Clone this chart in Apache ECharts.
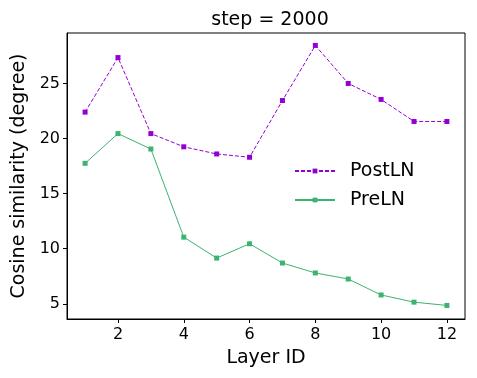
<!DOCTYPE html>
<html>
<head>
<meta charset="utf-8">
<script src="https://cdn.jsdelivr.net/npm/echarts@6/dist/echarts.min.js"></script>
<style>
  html, body { margin: 0; padding: 0; background: #fff; }
  #chart { width: 477px; height: 378px; }
</style>
</head>
<body>
<div id="chart"></div>
<script>
  // data
  const layers = [1, 2, 3, 4, 5, 6, 7, 8, 9, 10, 11, 12];
  const postLN = [22.4, 27.35, 20.45, 19.25, 18.6, 18.3, 23.45, 28.45, 25.0, 23.55, 21.55, 21.55];
  const preLN = [17.75, 20.45, 19.05, 11.05, 9.15, 10.45, 8.7, 7.8, 7.25, 5.8, 5.15, 4.85];
  const xTicks = [2, 4, 6, 8, 10, 12];
  const yTicks = [5, 10, 15, 20, 25];

  const font = 'DejaVu Sans';
  const chart = echarts.init(document.getElementById('chart'));

  const pairs = arr => layers.map((x, i) => [x, arr[i]]);

  const option = {
    animation: false,
    backgroundColor: '#fff',
    title: {
      text: 'step = 2000',
      left: 265,
      top: 6,
      textAlign: 'center',
      textStyle: { fontFamily: font, fontSize: 19, fontWeight: 'normal', color: '#000' }
    },
    legend: {
      orient: 'vertical',
      left: 294,
      top: 161,
      padding: 0,
      itemWidth: 40,
      itemHeight: 6,
      itemGap: 9,
      textStyle: { fontFamily: font, fontSize: 19, color: '#000', lineHeight: 20, padding: [0, 0, 0, 10] },
      data: ['PostLN', 'PreLN']
    },
    grid: {
      left: 67, right: 12, top: 33, bottom: 59,
      show: true, borderColor: '#000', borderWidth: 1, backgroundColor: 'transparent'
    },
    xAxis: {
      type: 'value',
      min: 0.45,
      max: 12.55,
      name: 'Layer ID',
      nameLocation: 'middle',
      nameGap: 30,
      nameTextStyle: { fontFamily: font, fontSize: 19, color: '#000' },
      axisLine: { lineStyle: { color: '#000', width: 1 } },
      axisTick: { show: true, length: 4, customValues: xTicks, lineStyle: { color: '#000' } },
      axisLabel: { customValues: xTicks, fontFamily: font, fontSize: 16, color: '#000', margin: 8 },
      splitLine: { show: false }
    },
    yAxis: {
      type: 'value',
      min: 3.62,
      max: 29.58,
      name: 'Cosine similarity (degree)',
      nameLocation: 'middle',
      nameGap: 37,
      nameTextStyle: { fontFamily: font, fontSize: 19, color: '#000' },
      axisLine: { show: true, lineStyle: { color: '#000', width: 1 } },
      axisTick: { show: true, length: 4, customValues: yTicks, lineStyle: { color: '#000' } },
      axisLabel: { customValues: yTicks, fontFamily: font, fontSize: 16, color: '#000', margin: 7 },
      splitLine: { show: false }
    },
    series: [
      {
        name: 'PostLN',
        type: 'line',
        data: pairs(postLN),
        symbol: 'rect',
        symbolSize: 5,
        color: '#9400D3',
        lineStyle: { width: 1, type: [4, 2] },
        itemStyle: { color: '#9400D3' }
      },
      {
        name: 'PreLN',
        type: 'line',
        data: pairs(preLN),
        symbol: 'rect',
        symbolSize: 5,
        color: '#3CB371',
        lineStyle: { width: 1 },
        itemStyle: { color: '#3CB371' }
      }
    ]
  };
  chart.setOption(option);
</script>
</body>
</html>
